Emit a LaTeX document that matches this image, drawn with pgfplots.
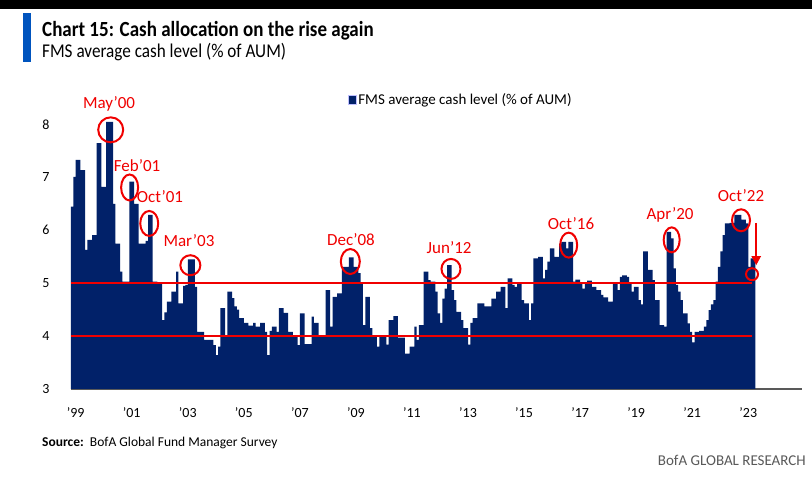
\documentclass[border=0pt]{standalone}
\usepackage{pgfplots}
\pgfplotsset{compat=1.18}
\usepackage{pgfplotstable}
\usepackage{fontspec}
\setmainfont{Carlito}
\newfontfamily\condfont{Carlito}[FakeStretch=0.88]
\usetikzlibrary{arrows.meta}
\definecolor{navy}{RGB}{1,33,105}
\definecolor{bred}{RGB}{240,0,0}
\definecolor{titleblue}{RGB}{0,84,190}

\pgfplotstableread{
m v
0 6.45
1 7.01
2 7.33
3 7.33
4 7.14
5 7.14
6 5.63
7 5.82
8 5.82
9 5.91
10 5.91
11 7.65
12 7.65
13 6.82
14 6.82
15 8.05
16 8.05
17 8.05
18 6.5
19 5.75
20 5.75
21 5.22
22 5.03
23 5.03
24 5.03
25 6.92
26 6.92
27 6.5
28 6.5
29 5.75
30 5.75
31 5.75
32 5.8
33 6.29
34 6.29
35 5.03
36 5.03
37 5.0
38 5.0
39 4.3
40 4.45
41 4.65
42 4.65
43 4.84
44 4.84
45 5.22
46 4.62
47 4.62
48 4.95
49 4.97
50 5.45
51 5.45
52 5.45
53 4.93
54 4.08
55 4.08
56 4.08
57 3.93
58 3.93
59 3.93
60 3.93
61 3.83
62 3.64
63 3.8
64 4.53
65 4.53
66 4.0
67 4.84
68 4.84
69 4.72
70 4.56
71 4.5
72 4.34
73 4.34
74 4.25
75 4.25
76 4.2
77 4.2
78 4.25
79 4.18
80 4.18
81 4.25
82 4.25
83 4.08
84 3.64
85 4.1
86 4.18
87 4.18
88 4.08
89 4.53
90 4.53
91 4.44
92 4.44
93 4.08
94 4.08
95 4.0
96 4.0
97 3.83
98 4.43
99 4.43
100 3.85
101 3.85
102 3.85
103 4.37
104 4.25
105 4.25
106 4.0
107 4.02
108 4.02
109 4.87
110 4.87
111 4.18
112 4.74
113 4.74
114 4.81
115 4.81
116 5.31
117 5.31
118 5.31
119 5.49
120 5.49
121 5.31
122 5.31
123 5.19
124 5.0
125 4.21
126 4.74
127 4.74
128 4.15
129 4.02
130 4.02
131 3.8
132 4.02
133 4.02
134 4.02
135 3.84
136 4.3
137 4.3
138 4.38
139 4.38
140 3.97
141 3.97
142 3.97
143 3.67
144 3.67
145 3.8
146 3.8
147 4.18
148 3.93
149 4.21
150 4.21
151 5.22
152 5.22
153 5.06
154 5.03
155 5.03
156 4.84
157 4.43
158 4.25
159 4.71
160 4.9
161 5.34
162 5.34
163 4.87
164 4.68
165 4.46
166 4.46
167 4.3
168 4.15
169 4.15
170 3.84
171 4.25
172 4.34
173 4.34
174 4.62
175 4.62
176 4.62
177 4.56
178 4.56
179 4.56
180 4.71
181 4.71
182 4.84
183 4.84
184 4.93
185 4.93
186 4.53
187 5.09
188 5.09
189 4.97
190 4.93
191 5.0
192 5.0
193 4.68
194 4.62
195 4.62
196 4.3
197 4.62
198 5.47
199 5.47
200 5.5
201 5.5
202 5.09
203 5.25
204 5.41
205 5.66
206 5.66
207 5.5
208 5.5
209 5.75
210 5.78
211 5.78
212 5.66
213 5.78
214 5.78
215 5.03
216 5.07
217 5.07
218 5.0
219 4.9
220 5.0
221 5.05
222 5.05
223 4.93
224 4.93
225 4.87
226 4.87
227 4.78
228 4.73
229 4.73
230 4.65
231 4.65
232 5.0
233 5.0
234 4.87
235 5.12
236 5.15
237 5.15
238 5.12
239 5.0
240 4.84
241 4.93
242 4.93
243 4.68
244 4.6
245 5.6
246 5.6
247 5.25
248 5.25
249 5.06
250 4.68
251 4.68
252 4.21
253 4.21
254 4.18
255 5.97
256 5.97
257 5.85
258 5.28
259 4.97
260 4.84
261 4.68
262 4.43
263 4.43
264 4.24
265 4.08
266 3.88
267 4.08
268 4.08
269 4.1
270 4.1
271 4.18
272 4.3
273 4.49
274 4.6
275 4.68
276 5.03
277 5.31
278 5.6
279 5.91
280 6.13
281 6.13
282 6.14
283 6.14
284 6.29
285 6.29
286 6.29
287 6.2
288 6.2
289 6.13
290 5.31
291 5.47
292 5.47
293 5.47
}\cashdata

\begin{document}
\begin{tikzpicture}
\begin{axis}[
  scale only axis, width=731pt, height=296.2pt,
  xmin=0, xmax=313, ymin=3, ymax=8.6,
  axis lines*=left,
  x axis line style={draw=black!65, line width=1.5pt},
  y axis line style={draw=none},
  tick style={draw=none},
  ytick={3,4,5,6,7,8},
  xtick={2,26,50,74,98,122,146,170,194,218,242,266,290},
  xticklabels={'99,'01,'03,'05,'07,'09,'11,'13,'15,'17,'19,'21,'23},
  /pgf/number format/assume math mode=true,
  ticklabel style={font=\fontsize{14}{14}\selectfont},
  yticklabel style={xshift=-18pt},
  xticklabel style={yshift=-15pt},
  clip=false,
  legend style={at={(0.378,0.976)}, anchor=west, draw=none, fill=none,
    font=\fontsize{15}{15}\selectfont, inner sep=0pt},
  legend image code/.code={\fill[navy, draw=blue!25, line width=0.8pt] (0pt,-4pt) rectangle (8pt,5pt);},
]
\addplot[fill=navy, draw=none, const plot mark left] table[x=m, y=v] {\cashdata} \closedcycle;
\addlegendentry{FMS average cash level (\% of AUM)}
\addplot[bred, line width=2pt, forget plot] coordinates {(0,5) (291.6,5)};
\addplot[bred, line width=2pt, forget plot] coordinates {(0,4) (291.6,4)};
\begin{scope}[bred, line width=2pt]
\draw (axis cs:17.0,7.9) ellipse [x radius=12.5pt, y radius=12.5pt];
\draw (axis cs:25.1,6.81) ellipse [x radius=8.5pt, y radius=13pt];
\draw (axis cs:33.5,6.13) ellipse [x radius=9pt, y radius=12.5pt];
\draw (axis cs:51.1,5.34) ellipse [x radius=10pt, y radius=10pt];
\draw (axis cs:119.6,5.41) ellipse [x radius=9.5pt, y radius=12.5pt];
\draw (axis cs:162.7,5.27) ellipse [x radius=9.5pt, y radius=10pt];
\draw (axis cs:213.1,5.72) ellipse [x radius=8.5pt, y radius=12.5pt];
\draw (axis cs:257.2,5.82) ellipse [x radius=8pt, y radius=12.5pt];
\draw (axis cs:286.9,6.19) ellipse [x radius=9pt, y radius=11pt];
\draw (axis cs:291.6,5.17) ellipse [x radius=6pt, y radius=6pt];
\draw[-{Triangle[width=9pt,length=9pt]}] (axis cs:293.4,6.14) -- (axis cs:293.4,5.34);
\end{scope}
\begin{scope}[every node/.style={text=bred, font=\fontsize{17}{17}\selectfont, inner sep=0pt}]
\node at (axis cs:16.3,8.39) {May'00};
\node at (axis cs:28.3,7.23) {Feb'01};
\node at (axis cs:38.1,6.63) {Oct'01};
\node at (axis cs:50.5,5.80) {Mar'03};
\node at (axis cs:119.9,5.82) {Dec'08};
\node at (axis cs:161.9,5.68) {Jun'12};
\node at (axis cs:214.1,6.12) {Oct'16};
\node at (axis cs:256.5,6.29) {Apr'20};
\node at (axis cs:286.9,6.65) {Oct'22};
\end{scope}
\end{axis}
% frame and texts, in picture pixels shifted so that the axis corner (71,389) is the origin
\begin{scope}[shift={(-71pt,-109pt)}, x=1pt, y=1pt]
\path[use as bounding box] (0,0) rectangle (812,498);
\fill[black] (0,489) rectangle (812,498);
\fill[titleblue] (23,436) rectangle (31,485);
\node[anchor=base west, inner sep=0pt, font=\condfont\bfseries\fontsize{21.6}{21.6}\selectfont] at (42,461) {Chart 15: Cash allocation on the rise again};
\node[anchor=base west, inner sep=0pt, font=\condfont\fontsize{19.5}{19.5}\selectfont] at (42,440) {FMS average cash level (\% of AUM)};
\node[anchor=base west, inner sep=0pt, font=\fontsize{13.5}{13.5}\selectfont] at (42,52) {\textbf{Source:}\ \ BofA Global Fund Manager Survey};
\node[anchor=base east, inner sep=0pt, text=black!65, font=\fontsize{15}{15}\selectfont] at (806,32) {BofA GLOBAL RESEARCH};
\end{scope}
\end{tikzpicture}
\end{document}
